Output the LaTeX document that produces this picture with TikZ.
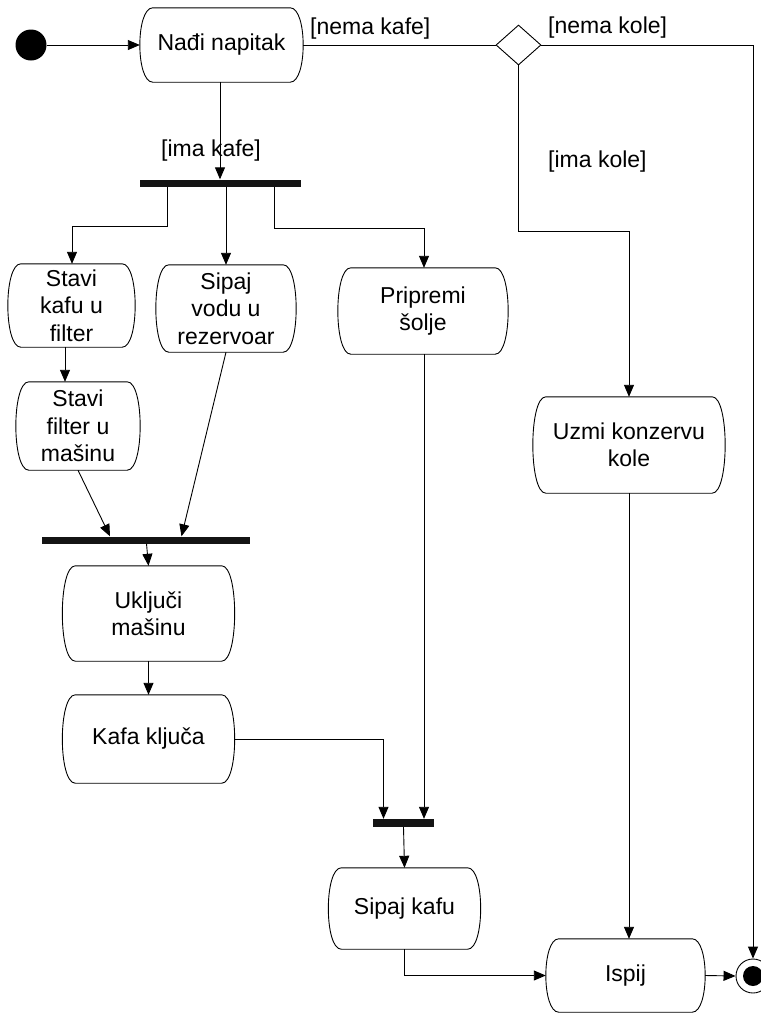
\documentclass[tikz,border=0pt]{standalone}
\usepackage{fontspec}
\setmainfont{Liberation Sans}
\usetikzlibrary{arrows.meta,shapes.geometric,calc}

\tikzset{
  line/.style={draw=black, line width=0.9pt},
  arr/.style={line, -{Triangle[length=12pt,width=10pt]}},
  action/.style={rectangle, draw=none, inner sep=0pt, align=center,
    font=\fontsize{23}{27.5}\selectfont},
  guard/.style={inner sep=0pt, anchor=west, font=\fontsize{23}{27}\selectfont},
  syncbar/.style={rectangle, fill=black!92, draw=none, inner sep=0pt},
}

% outline of an action state: straight top and bottom, bowed sides
\newcommand\actionoutline[1]{%
  \draw[line] ([xshift=13pt]#1.north west) -- ([xshift=-13pt]#1.north east)
    .. controls ([xshift=4.3pt]#1.north east) and ([xshift=4.3pt]#1.south east) ..
    ([xshift=-13pt]#1.south east) -- ([xshift=13pt]#1.south west)
    .. controls ([xshift=-4.3pt]#1.south west) and ([xshift=-4.3pt]#1.north west) ..
    cycle;}

\begin{document}
\begin{tikzpicture}[x=1pt, y=-1pt]
\useasboundingbox (0,0) rectangle (761,1013);
\fill[white] (0,0) rectangle (761,1013);

% initial and final states
\node[circle, fill=black, inner sep=0pt, minimum size=31pt] (start) at (31,45) {};
\node[circle, draw=black, line width=0.9pt, fill=white, inner sep=0pt, minimum size=34pt] (end) at (753,976) {};
\fill[black] (end.center) circle (10pt);

% actions
\node[action, minimum width=163pt, minimum height=74pt] (find) at (221.5,45) {Nađi napitak};
\node[action, minimum width=127pt, minimum height=83pt] (skf) at (71.5,305.5) {Stavi\\kafu u\\filter};
\node[action, minimum width=140pt, minimum height=87pt] (svr) at (226,308.5) {Sipaj\\vodu u\\rezervoar};
\node[action, minimum width=170pt, minimum height=86pt] (ps) at (423,311) {Pripremi\\šolje};
\node[action, minimum width=124pt, minimum height=88pt] (sfm) at (78,426) {Stavi\\filter u\\mašinu};
\node[action, minimum width=172pt, minimum height=95pt] (um) at (148.5,613.5) {Uključi\\mašinu};
\node[action, minimum width=172pt, minimum height=88pt] (kk) at (148.5,739) {Kafa ključa};
\node[action, minimum width=152pt, minimum height=81pt] (sk) at (404.5,908.5) {Sipaj kafu};
\node[action, minimum width=192pt, minimum height=96pt] (ukk) at (629,445) {Uzmi konzervu\\kole};
\node[action, minimum width=159pt, minimum height=73pt] (isp) at (625.5,975.5) {Ispij};
\foreach \n in {find,skf,svr,ps,sfm,um,kk,sk,ukk,isp} {\actionoutline{\n}}

% decision
\node[diamond, draw=black, line width=0.9pt, inner sep=0pt, minimum width=45pt, minimum height=40pt] (d1) at (518.5,45) {};

% synchronisation bars
\node[syncbar, minimum width=161pt, minimum height=7pt] (bar1) at (220.5,183) {};
\node[syncbar, minimum width=208pt, minimum height=7pt] (bar2) at (145.5,540) {};
\node[syncbar, minimum width=61pt, minimum height=8pt] (bar3) at (403.5,823) {};

% guards
\node[guard] (gnk) at (310,29) {[nema kafe]};
\node[guard] (gnc) at (548,28) {[nema kole]};
\node[guard] (gik) at (161,151) {[ima kafe]};
\node[guard] (gic) at (548,162) {[ima kole]};

\coordinate (colaturn) at (518.5,231);
\coordinate (cupturn) at (274,228);
\coordinate (kafturn) at (167,226);

% flows
\draw[arr] (start) -- (find.west);
\draw[line] (find.east) -- (d1.west);
\draw[arr] (d1.east) -| (end.north);
\draw[arr] (d1.south) -- (colaturn) -| (ukk.north);
\draw[arr] (ukk.south) -- (ukk.south |- isp.north);
\draw[arr] (find.south -| 220,0) -- (bar1.north -| 220,0);

\draw[arr] (kafturn |- bar1.south) -- (kafturn) -| ([xshift=0.5pt]skf.north);
\draw[arr] (bar1.south -| svr.north) -- (svr.north);
\draw[arr] (cupturn |- bar1.south) -- (cupturn) -| ([xshift=1pt]ps.north);

\draw[arr] ([xshift=-6.5pt]skf.south) -- ([xshift=-13pt]sfm.north);
\draw[arr] (sfm.south) -- ([xshift=-35.5pt]bar2.north);
\draw[arr] (svr.south) -- ([xshift=36pt]bar2.north);
\draw[arr] ([xshift=1pt]bar2.south) -- (um.north);
\draw[arr] (um.south) -- (kk.north);

\draw[arr] (kk.east) -| ([xshift=-20pt]bar3.north);
\draw[arr] ([xshift=1pt]ps.south) -- ([xshift=20.5pt]bar3.north);
\draw[arr] (bar3.south) -- (sk.north);
\draw[arr] (sk.south) |- (isp.west);
\draw[arr] (isp.east) -- (end.west);
\end{tikzpicture}
\end{document}
